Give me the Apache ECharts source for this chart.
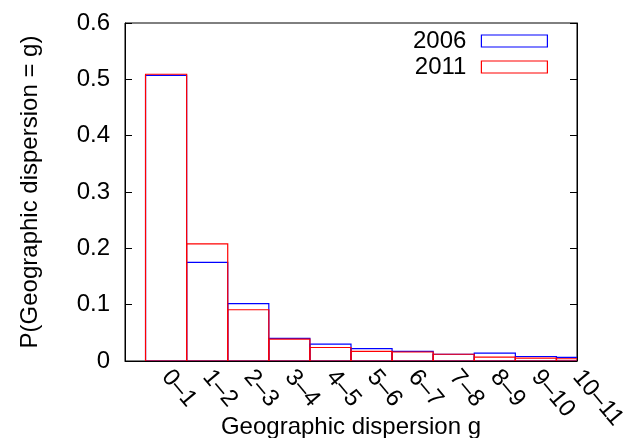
<!DOCTYPE html>
<html>
<head>
<meta charset="utf-8">
<script src="https://cdn.jsdelivr.net/npm/echarts@6/dist/echarts.min.js"></script>
<style>html,body{margin:0;padding:0;background:#fff}#c{width:630px;height:438px}</style>
</head>
<body>
<div id="c"></div>
<script>
var categories = ['0\u20131','1\u20132','2\u20133','3\u20134','4\u20135','5\u20136','6\u20137','7\u20138','8\u20139','9\u201310','10\u201311'];
var values2006 = [0.507, 0.175, 0.102, 0.040, 0.030, 0.022, 0.017, 0.012, 0.014, 0.008, 0.0065];
var values2011 = [0.509, 0.208, 0.091, 0.039, 0.024, 0.017, 0.016, 0.012, 0.007, 0.005, 0.004];
var yTicks = [0, 0.1, 0.2, 0.3, 0.4, 0.5, 0.6];

var FONT = 'Liberation Sans';
var FS = 24;
var BLUE = '#0000ff', RED = '#ff0000';
var chart = echarts.init(document.getElementById('c'), null, {renderer: 'canvas'});
function pts(arr){ return arr.map(function(v,i){ return [i, v]; }); }
function boxRenderer(color){
  return function(params, api){
    var x = api.value(0), y = api.value(1);
    var p0 = api.coord([x - 0.5, y]);
    var p1 = api.coord([x + 0.5, 0]);
    return {
      type: 'rect',
      shape: {x: p0[0], y: p0[1], width: p1[0] - p0[0], height: p1[1] - p0[1]},
      style: {fill: 'none', stroke: color, lineWidth: 1.2}
    };
  };
}
chart.setOption({
  animation: false,
  textStyle: {fontFamily: FONT},
  grid: {left: 125, right: 53, top: 23, bottom: 77, containLabel: false, outerBoundsMode: 'none',
         show: true, borderColor: '#000', borderWidth: 1, backgroundColor: 'transparent'},
  legend: {
    orient: 'vertical', right: 82, top: 29, align: 'right', icon: 'rect', padding: 0,
    itemWidth: 66, itemHeight: 12, itemGap: 2,
    textStyle: {fontFamily: FONT, fontSize: FS, lineHeight: 24, color: '#000', padding: [0, 10, 0, 0]},
    data: [
      {name: '2006', itemStyle: {color: 'rgba(0,0,0,0)', borderColor: BLUE, borderWidth: 1.2}},
      {name: '2011', itemStyle: {color: 'rgba(0,0,0,0)', borderColor: RED, borderWidth: 1.2}}
    ]
  },
  xAxis: {
    type: 'value', min: -1, max: 10, interval: 1,
    name: 'Geographic dispersion g', nameLocation: 'middle', nameGap: 54, nameMoveOverlap: false,
    nameTextStyle: {fontFamily: FONT, fontSize: FS, color: '#000', verticalAlign: 'top'},
    axisLine: {show: true, onZero: false, lineStyle: {color: '#000', width: 1}},
    axisTick: {show: false},
    splitLine: {show: false},
    axisLabel: {
      rotate: -50, margin: 12, fontFamily: FONT, fontSize: FS, color: '#000',
      showMinLabel: true, showMaxLabel: true, hideOverlap: false,
      formatter: function(v){ var i = Math.round(v); return (i >= 0 && i < categories.length) ? categories[i] : ''; }
    }
  },
  yAxis: [{
    type: 'value', min: yTicks[0], max: yTicks[yTicks.length-1], interval: 0.1, position: 'left',
    name: 'P(Geographic dispersion = g)', nameLocation: 'middle', nameGap: 83, nameRotate: 90, nameMoveOverlap: false,
    nameTextStyle: {fontFamily: FONT, fontSize: FS, color: '#000'},
    axisLine: {show: true, onZero: false, lineStyle: {color: '#000', width: 1}},
    axisTick: {show: true, inside: true, length: 7, lineStyle: {color: '#000'}},
    splitLine: {show: false},
    axisLabel: {fontFamily: FONT, fontSize: FS, color: '#000', margin: 15,
      formatter: function(v){ return v === 0 ? '0' : v.toFixed(1); }}
  }, {
    type: 'value', min: yTicks[0], max: yTicks[yTicks.length-1], interval: 0.1, position: 'right',
    axisLine: {show: true, onZero: false, lineStyle: {color: '#000', width: 1}},
    axisTick: {show: true, inside: true, length: 7, lineStyle: {color: '#000'}},
    splitLine: {show: false},
    axisLabel: {show: false}
  }],
  series: [{
    name: '2006', type: 'custom', data: pts(values2006), clip: true,
    encode: {x: 0, y: 1},
    itemStyle: {color: BLUE},
    renderItem: boxRenderer(BLUE)
  }, {
    name: '2011', type: 'custom', data: pts(values2011), clip: true,
    encode: {x: 0, y: 1},
    itemStyle: {color: RED},
    renderItem: boxRenderer(RED)
  }]
});
</script>
</body>
</html>
